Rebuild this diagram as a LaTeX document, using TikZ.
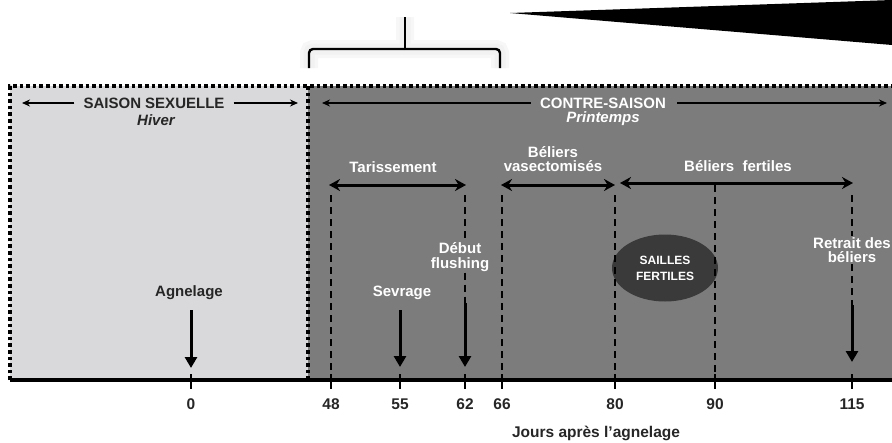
\documentclass[tikz,border=0pt]{standalone}
\usepackage{fontspec}
\setmainfont{Liberation Sans}
\usetikzlibrary{arrows.meta,shapes.geometric,positioning}
\definecolor{hiverbg}{RGB}{217,217,219}
\definecolor{contrebg}{RGB}{124,124,124}
\definecolor{saillesbg}{RGB}{58,58,58}
\tikzset{
  lbl/.style={font=\bfseries\fontsize{15}{14.5}\selectfont, align=center, text=white, inner sep=1pt},
  lbldark/.style={lbl, text=black!85},
  ticklabel/.style={lbldark, font=\bfseries\fontsize{15.5}{15}\selectfont},
  guide/.style={line width=2.6pt, dash pattern=on 7pt off 5pt},
  spanarrow/.style={{Stealth[length=11pt,width=12pt]}-{Stealth[length=11pt,width=12pt]}, line width=3pt},
  eventarrow/.style={-{Triangle[length=11pt,width=12pt]}, line width=3pt},
  seasonarrow/.style={-{Stealth[length=8pt,width=7pt]}, line width=1.8pt},
  dotborder/.style={line width=3.6pt, dash pattern=on 3.6pt off 3pt},
  bracket/.style={line width=2.4pt, rounded corners=4pt},
}

\begin{document}
\begin{tikzpicture}[x=1pt,y=-1pt]
  \useasboundingbox (0,0) rectangle (892,442);

  % Wedge
  \fill (510,13) -- (892,0) -- (892,45) -- cycle;

  % Bracket with soft glow
  \foreach \w/\c in {18/3,11/5}
    \draw[bracket, line width=\w pt, black!\c] (309,68) -- (309,49) -- (500,49) -- (500,68) (405,49) -- (405,17);
  \draw[bracket] (309,68) -- (309,49) -- (500,49) -- (500,68);
  \draw[line width=2.4pt] (405,50) -- (405,17);

  % Season backgrounds
  \fill[hiverbg] (10,86) rectangle (308,380);
  \fill[contrebg] (308,86) rectangle (892,380);
  \draw[dotborder] (10,380) -- (10,86) -- (892,86);
  \draw[dotborder] (308,86) -- (308,380);

  % Season titles
  \node[lbldark] (sexuelle) at (154,103) {SAISON SEXUELLE};
  \node[lbldark, font=\bfseries\itshape\fontsize{15}{13}\selectfont] (hiver) at (156,120) {Hiver};
  \node[lbl] (contre) at (603,103) {CONTRE-SAISON};
  \node[lbl, font=\bfseries\itshape\fontsize{15}{13}\selectfont] (printemps) at (603,119) {Printemps};
  \coordinate (sexL) at (22,103);
  \coordinate (sexR) at (298,103);
  \coordinate (conL) at (322,103);
  \coordinate (conR) at (887,103);
  \draw[seasonarrow] (sexuelle.west) ++(-8,0) -- (sexL);
  \draw[seasonarrow] (sexuelle.east) ++(8,0) -- (sexR);
  \draw[seasonarrow] (contre.west) ++(-8,0) -- (conL);
  \draw[seasonarrow] (contre.east) ++(10,0) -- (conR);

  % Axis and ticks
  \draw[line width=3.4pt] (10,380) -- (892,380);
  \foreach \d/\x in {0/191,48/331,55/400,62/465,66/502,80/615,90/715,115/852} {
    \coordinate (t\d) at (\x,380);
    \draw[line width=2.4pt] (\x,374) -- (\x,389);
    \node[ticklabel] (n\d) at (\x,404) {\d};
  }
  \node[ticklabel] (jours) at (596,433) {Jours après l’agnelage};

  % Fertile matings
  \node[ellipse, fill=saillesbg, minimum width=106pt, minimum height=67pt, inner sep=0pt,
        lbl, font=\bfseries\fontsize{12}{16}\selectfont] (sailles) at (665,268) {SAILLES\\FERTILES};

  % Periods
  \coordinate (s48) at (329,185);
  \coordinate (s62) at (466,185);
  \coordinate (s66) at (501,185);
  \coordinate (s80) at (615,185);
  \coordinate (f80) at (620,183);
  \coordinate (f115) at (853,183);
  \draw[spanarrow] (s48) -- (s62);
  \draw[spanarrow] (s66) -- (s80);
  \draw[spanarrow] (f80) -- (f115);
  \node[lbl] (tarissement) at (393,167) {Tarissement};
  \node[lbl] (vasecto) at (553,159) {Béliers\\vasectomisés};
  \node[lbl] (fertiles) at (738,166) {Béliers\ \ fertiles};

  % Dashed guides
  \coordinate (g48) at (331,195);
  \coordinate (g62) at (465,195);
  \coordinate (g66) at (502,195);
  \coordinate (g80) at (615,195);
  \coordinate (g90) at (715,185);
  \coordinate (g115) at (852,195);
  \draw[guide] (g48) -- (t48);
  \draw[guide] (g66) -- (t66);
  \draw[guide] (g80) -- (t80);
  \draw[guide] (g90) -- (t90);

  % Events
  \node[lbldark] (agnelage) at (189,293) {Agnelage};
  \node[lbl] (sevrage) at (402,293) {Sevrage};
  \node[lbl] (flushing) at (460,257) {Début\\flushing};
  \node[lbl] (retrait) at (852,250) {Retrait des\\béliers};
  \coordinate (a0) at (191,310);
  \coordinate (a55) at (400,310);
  \coordinate (a62) at (465,303);
  \coordinate (a115) at (852,305);
  \draw[guide] (g62) -- (g62 |- flushing.north) (flushing.south -| g62) -- (a62);
  \draw[guide] (g115) -- (g115 |- retrait.north) (retrait.south -| g115) -- (a115);
  \draw[eventarrow] (a0) -- ([yshift=12pt]t0);
  \draw[eventarrow] (a55) -- ([yshift=13pt]t55);
  \draw[eventarrow] (a62) -- ([yshift=13pt]t62);
  \draw[eventarrow] (a115) -- ([yshift=18pt]t115);
\end{tikzpicture}
\end{document}
